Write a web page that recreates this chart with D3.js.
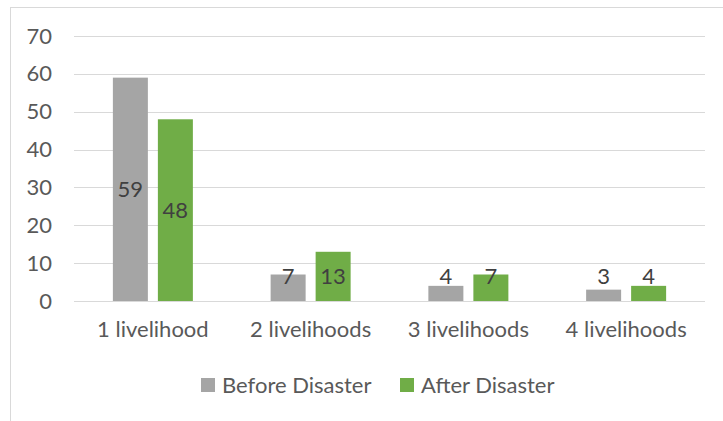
<!DOCTYPE html>
<html lang="en">
<head>
<meta charset="utf-8">
<title>Livelihoods before and after disaster</title>
<script src="https://d3js.org/d3.v7.min.js"></script>
<style>
body { margin: 0; background: #fff; }
svg text { font-family: "Lato", "Liberation Sans", sans-serif; fill: #595959; }
.grid line { stroke: #d9d9d9; stroke-width: 1; shape-rendering: crispEdges; }
.lbl { fill: #404040; }
</style>
</head>
<body>
<svg width="723" height="421"></svg>
<script>
var categories = ["1 livelihood", "2 livelihoods", "3 livelihoods", "4 livelihoods"];
var seriesNames = ["Before Disaster", "After Disaster"];
var before = [59, 7, 4, 3];
var after = [48, 13, 7, 4];
var yTicks = [0, 10, 20, 30, 40, 50, 60, 70];
var colors = ["#a5a5a5", "#70ad47"];
var fontSize = "22px";

var svg = d3.select("svg");

// chart frame
svg.append("rect")
   .attr("x", 10.5).attr("y", 7.5)
   .attr("width", 730).attr("height", 430)
   .attr("fill", "none").attr("stroke", "#d9d9d9");

var plotL = 74, plotR = 705, plotT = 36, plotB = 301;

var x0 = d3.scaleBand().domain(categories).range([plotL, plotR]).padding(0);
var x1 = d3.scaleBand().domain(seriesNames).range([0, 80]).paddingInner(10 / 45);
var y = d3.scaleLinear().domain([0, 70]).range([plotB, plotT]);

// gridlines
svg.append("g").attr("class", "grid")
   .selectAll("line").data(yTicks).enter().append("line")
   .attr("x1", plotL).attr("x2", plotR)
   .attr("y1", function(d) { return Math.round(y(d)) + 0.5; })
   .attr("y2", function(d) { return Math.round(y(d)) + 0.5; });

// y axis labels
var yAxis = svg.append("g")
   .attr("transform", "translate(" + 60 + ",0)")
   .call(d3.axisLeft(y).tickValues(yTicks).tickSize(0).tickPadding(8));
yAxis.select(".domain").remove();
yAxis.selectAll("text")
   .attr("font-size", fontSize).attr("fill", "#595959")
   .style("font-family", "Lato, sans-serif");

// x axis labels
var xAxis = svg.append("g")
   .attr("transform", "translate(0," + plotB + ")")
   .call(d3.axisBottom(x0).tickSize(0).tickPadding(20));
xAxis.select(".domain").remove();
xAxis.selectAll("text")
   .attr("font-size", fontSize).attr("fill", "#595959")
   .style("font-family", "Lato, sans-serif");

var rows = categories.map(function(c, i) {
  return { cat: c, vals: [before[i], after[i]] };
});

var groups = svg.selectAll(".grp").data(rows).enter().append("g")
   .attr("class", "grp")
   .attr("transform", function(d) {
     return "translate(" + (x0(d.cat) + x0.bandwidth() / 2 - 40) + ",0)";
   });

groups.selectAll("rect")
   .data(function(d) { return d.vals.map(function(v, j) { return { s: seriesNames[j], v: v, j: j }; }); })
   .enter().append("rect")
   .attr("x", function(d) { return x1(d.s); })
   .attr("y", function(d) { return y(d.v); })
   .attr("width", x1.bandwidth())
   .attr("height", function(d) { return y(0) - y(d.v); })
   .attr("fill", function(d) { return colors[d.j]; });

groups.selectAll("text.lbl")
   .data(function(d) { return d.vals.map(function(v, j) { return { s: seriesNames[j], v: v }; }); })
   .enter().append("text")
   .attr("class", "lbl")
   .attr("x", function(d) { return x1(d.s) + x1.bandwidth() / 2; })
   .attr("y", function(d) { return Math.min((y(d.v) + y(0)) / 2, y(0) - 25); })
   .attr("dy", "0.35em")
   .attr("text-anchor", "middle")
   .attr("font-size", fontSize)
   .text(function(d) { return d.v; });

// legend
var legend = svg.append("g");
var legX = [201, 400];
seriesNames.forEach(function(name, i) {
  legend.append("rect")
     .attr("x", legX[i]).attr("y", 378)
     .attr("width", 14).attr("height", 14)
     .attr("fill", colors[i]);
  legend.append("text")
     .attr("x", legX[i] + 21).attr("y", 385)
     .attr("dy", "0.35em")
     .attr("font-size", fontSize)
     .text(name);
});
</script>
</body>
</html>
